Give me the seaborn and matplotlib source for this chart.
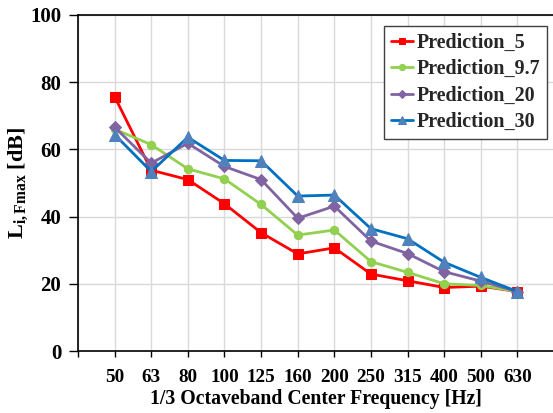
import numpy as np
import pandas as pd
import matplotlib
matplotlib.use("Agg")
import matplotlib.pyplot as plt
import seaborn as sns

# 1/3 octave band centre frequencies [Hz]
frequencies = ["50", "63", "80", "100", "125", "160", "200", "250", "315", "400", "500", "630"]

# Predicted maximum impact sound levels L_i,Fmax [dB]
pred_5 = [75.7, 53.8, 51.0, 43.8, 35.2, 28.9, 30.7, 22.9, 20.9, 18.9, 19.3, 17.7]
pred_9_7 = [66.0, 61.4, 54.2, 51.2, 43.6, 34.5, 36.0, 26.6, 23.4, 20.0, 19.5, 17.7]
pred_20 = [66.6, 55.9, 61.8, 54.9, 51.0, 39.5, 43.1, 32.7, 29.0, 23.6, 20.8, 17.7]
pred_30 = [64.4, 53.4, 63.6, 56.7, 56.6, 46.1, 46.4, 36.4, 33.4, 26.4, 21.9, 17.7]

series_names = ["Prediction_5", "Prediction_9.7", "Prediction_20", "Prediction_30"]
series_values = [pred_5, pred_9_7, pred_20, pred_30]

line_colors = ["#FF0000", "#92D050", "#8064A2", "#0070C0"]
marker_colors = ["#FF0000", "#92D050", "#8064A2", "#4F81BD"]
markers = ["s", "o", "D", "^"]
marker_sizes = [6.5, 6, 6, 8]

sns.set_theme(style="white")
plt.rcParams["font.family"] = ["Liberation Serif", "DejaVu Serif"]
plt.rcParams["font.weight"] = "bold"
plt.rcParams["mathtext.fontset"] = "custom"
plt.rcParams["mathtext.rm"] = "Liberation Serif:bold"
plt.rcParams["mathtext.bf"] = "Liberation Serif:bold"
plt.rcParams["mathtext.it"] = "Liberation Serif:bold"

positions = np.arange(len(frequencies))
df = pd.DataFrame({
    "pos": np.tile(positions, len(series_names)),
    "level": np.concatenate(series_values),
    "series": np.repeat(series_names, len(frequencies)),
})

fig = plt.figure(figsize=(5.53, 4.13), dpi=100)
ax = fig.add_axes([0.141, 0.150, 0.859, 0.814])

for name, lc, mc, mk, ms in zip(series_names, line_colors, marker_colors, markers, marker_sizes):
    sub = df[df["series"] == name]
    sns.lineplot(data=sub, x="pos", y="level", ax=ax, color=lc, linewidth=2.0,
                 marker=mk, markersize=ms, markerfacecolor=mc, markeredgecolor=mc,
                 label=name, zorder=3)

ax.set_xlim(-1, 11.97)
ax.set_ylim(0, 100)

ax.set_yticks([0, 20, 40, 60, 80, 100])
ax.set_xticks(np.arange(-1, len(frequencies)))
ax.set_xticklabels([""] + frequencies)

ax.grid(True, color="#D9D9D9", linewidth=1.0, zorder=0)
ax.set_axisbelow(True)

for side in ["left", "bottom", "top"]:
    ax.spines[side].set_visible(True)
    ax.spines[side].set_color("black")
    ax.spines[side].set_linewidth(1.2)
ax.spines["right"].set_visible(False)

ax.tick_params(axis="both", which="both", direction="out", colors="black", width=1.0)
ax.tick_params(axis="y", length=6.5, pad=5.5, left=True, labelsize=15)
ax.tick_params(axis="x", length=4, pad=9, bottom=True, labelsize=13.8)
for lbl in ax.get_xticklabels() + ax.get_yticklabels():
    lbl.set_fontweight("bold")

ax.set_xlabel("1/3 Octaveband Center Frequency [Hz]", fontsize=14.2,
              fontweight="bold", color="black", labelpad=2)
ax.set_ylabel(r"$\mathbf{L}_{\mathbf{i,Fmax}}$ [dB]", fontsize=16,
              fontweight="bold", color="black")
ax.yaxis.set_label_coords(-0.10, 0.5)

leg = ax.legend(loc="upper right", bbox_to_anchor=(0.987, 0.967), frameon=True,
                fancybox=False, edgecolor="#404040", framealpha=1.0,
                prop={"family": "Liberation Serif", "weight": "bold", "size": 14.4},
                handlelength=1.1, handletextpad=0.15, borderpad=0.35,
                labelspacing=0.32, borderaxespad=0.0, markerscale=0.75)
leg.get_frame().set_linewidth(1.0)

fig.savefig("out.png", dpi=100)
